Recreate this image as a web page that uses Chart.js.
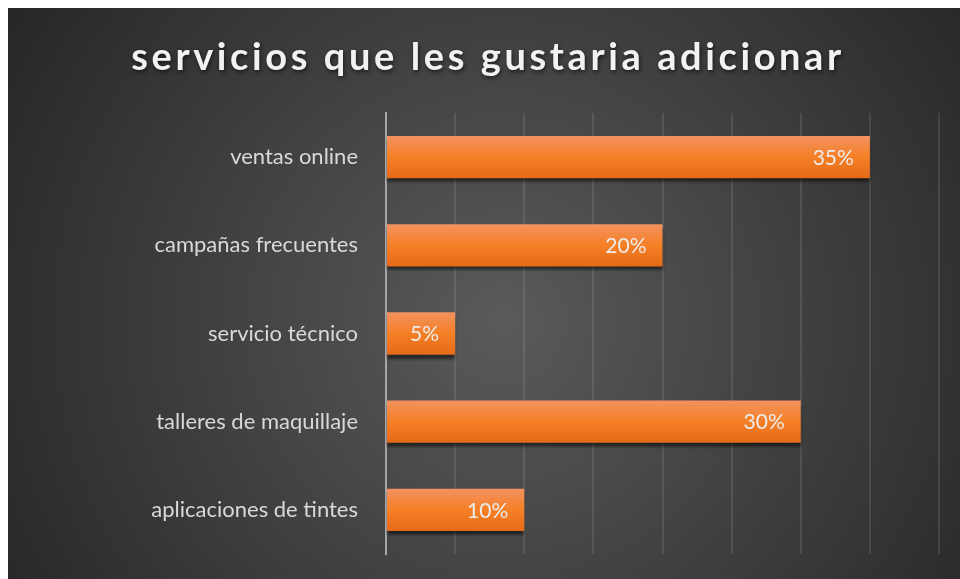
<!DOCTYPE html>
<html>
<head>
<meta charset="utf-8">
<script src="https://cdn.jsdelivr.net/npm/chart.js@4"></script>
<style>
  html, body { margin: 0; padding: 0; background: #fff; overflow: hidden; }
  #wrap { position: absolute; left: 8px; top: 8px; width: 952px; height: 571px; }
</style>
</head>
<body>
<div id="wrap"><canvas id="chart"></canvas></div>
<script>
const titleText = 'servicios que les gustaria adicionar';
const categories = ['ventas online', 'campañas frecuentes', 'servicio técnico', 'talleres de maquillaje', 'aplicaciones de tintes'];
const values = [35, 20, 5, 30, 10];
const axisMax = 40;
const axisStep = 5;

// dark radial backdrop like the office theme
const backdrop = {
  id: 'backdrop',
  beforeDraw(chart) {
    const { ctx, width, height } = chart;
    const g = ctx.createRadialGradient(width * 0.52, height * 0.55, 0, width * 0.52, height * 0.55, width * 0.62);
    g.addColorStop(0, '#5a5a5a');
    g.addColorStop(1, '#262626');
    ctx.save();
    ctx.fillStyle = g;
    ctx.fillRect(0, 0, width, height);
    ctx.restore();
  }
};

const titleDraw = {
  id: 'titleDraw',
  afterDraw(chart) {
    const ctx = chart.ctx;
    ctx.save();
    ctx.font = 'bold 38px Lato';
    ctx.letterSpacing = '3.6px';
    ctx.textAlign = 'center';
    ctx.textBaseline = 'alphabetic';
    ctx.fillStyle = '#f2f2f2';
    ctx.shadowColor = 'rgba(0,0,0,0.6)';
    ctx.shadowBlur = 4;
    ctx.shadowOffsetX = 1;
    ctx.shadowOffsetY = 2;
    ctx.fillText(titleText, chart.width / 2 + 4, 62);
    ctx.restore();
  }
};

const barShadow = {
  id: 'barShadow',
  beforeDatasetsDraw(chart) {
    const ctx = chart.ctx;
    ctx.save();
    ctx.shadowColor = 'rgba(0,0,0,0.55)';
    ctx.shadowBlur = 3;
    ctx.shadowOffsetY = 4;
  },
  afterDatasetsDraw(chart) {
    chart.ctx.restore();
    const ctx = chart.ctx;
    const meta = chart.getDatasetMeta(0);
    ctx.save();
    ctx.font = '21px Lato';
    ctx.fillStyle = '#ececec';
    ctx.textAlign = 'right';
    ctx.textBaseline = 'middle';
    meta.data.forEach((bar, i) => {
      ctx.fillText(values[i] + '%', bar.x - 16, bar.y + 1);
    });
    ctx.restore();
  }
};

function barFill(c) {
  const chart = c.chart;
  const y = chart.scales.y;
  if (!y || c.type !== 'data') return '#f58025';
  const mid = y.getPixelForValue(c.dataIndex);
  const half = Math.abs(y.getPixelForValue(1) - y.getPixelForValue(0)) * 0.48 / 2;
  if (!isFinite(mid) || !isFinite(half) || half === 0) return '#f58025';
  const g = chart.ctx.createLinearGradient(0, mid - half, 0, mid + half);
  g.addColorStop(0, '#f39260');
  g.addColorStop(0.5, '#f58026');
  g.addColorStop(1, '#e56a18');
  return g;
}

new Chart(document.getElementById('chart'), {
  type: 'bar',
  data: {
    labels: categories,
    datasets: [{
      data: values,
      backgroundColor: barFill,
      borderWidth: 0,
      barPercentage: 0.48,
      categoryPercentage: 1
    }]
  },
  options: {
    indexAxis: 'y',
    responsive: true,
    maintainAspectRatio: false,
    animation: false,
    layout: { padding: { top: 105, right: 21, bottom: 25, left: 0 } },
    plugins: {
      legend: { display: false },
      tooltip: { enabled: false }
    },
    scales: {
      x: {
        min: 0,
        max: axisMax,
        ticks: { display: false, stepSize: axisStep },
        grid: { color: 'rgba(255,255,255,0.1)', lineWidth: 2, drawTicks: false },
        border: { display: false },
        afterFit(scale) { scale.height = 0; }
      },
      y: {
        ticks: { color: '#d9d9d9', font: { family: 'Lato', size: 22 }, padding: 28 },
        grid: { display: false, drawTicks: false },
        border: { color: '#a6a6a6', width: 2 },
        afterFit(scale) {
          scale.width = 378;
          scale.paddingTop = 0;
          scale.paddingBottom = 0;
        }
      }
    }
  },
  plugins: [backdrop, barShadow, titleDraw]
});
</script>
</body>
</html>
